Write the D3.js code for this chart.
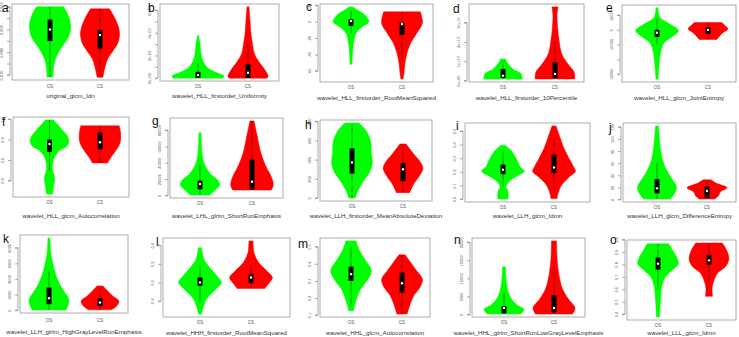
<!DOCTYPE html>
<html>
<head>
<meta charset="utf-8">
<script src="https://cdn.jsdelivr.net/npm/d3@7"></script>
<style>
  body { margin: 0; background: #fff; }
  svg { display: block; }
</style>
</head>
<body>
<svg id="chart" width="739" height="337"></svg>
<script>
// groups on the x axis of every panel
var categories = ["OS", "CS"];
var groupColors = ["#00ff00", "#ff0000"];

var panelLetters = ["a","b","c","d","e","f","g","h","i","j","k","l","m","n","o"];

var featureNames = [
  "original_glcm_Idn",
  "wavelet_HLL_firstorder_Uniformity",
  "wavelet_HLL_firstorder_RootMeanSquared",
  "wavelet_HLL_firstorder_10Percentile",
  "wavelet_HLL_glcm_JointEntropy",
  "wavelet_HLL_glcm_Autocorrelation",
  "wavelet_LHL_glrlm_ShortRunEmphasis",
  "wavelet_LLH_firstorder_MeanAbsoluteDeviation",
  "wavelet_LLH_glcm_Idmn",
  "wavelet_LLH_glcm_DifferenceEntropy",
  "wavelet_LLH_glrlm_HighGrayLevelRunEmphasis",
  "wavelet_HHH_firstorder_RootMeanSquared",
  "wavelet_HHL_glcm_Autocorrelation",
  "wavelet_HHL_glrlm_ShortRunLowGrayLevelEmphasis",
  "wavelet_LLL_glcm_Idmn"
];

var yTicks = [
  [0.870, 0.875, 0.880, 0.885, 0.890, 0.895, 0.900],
  [0, 1e-3, 2e-3, 3e-3, 4e-3, 5e-3, 6e-3],
  [-60, -40, -20, 0, 20],
  [0, 1e13, 2e13, 3e13],
  [-30000, -20000, -10000, 0, 10000],
  [0.4, 0.6, 0.8, 1.0],
  [0, 20000, 40000, 60000, 80000],
  [0, 200, 400, 600, 800],
  [0.0, 0.1, 0.2, 0.3, 0.4, 0.5],
  [0, 20, 40, 60, 80, 100, 120],
  [0, 2000, 4000, 6000, 8000],
  [-0.2, 0.0, 0.2, 0.4],
  [0.1, 0.2, 0.3, 0.4, 0.5],
  [0, 5000, 10000, 15000, 20000],
  [0.4, 0.5, 0.6, 0.7, 0.8, 0.9, 1.0]
];

var yTickLabels = [
  ["0.870", "", "0.880", "", "0.890", "", "0.900"],
  ["0e+00", "", "2e-03", "", "4e-03", "", "6e-03"],
  ["-60", "-40", "-20", "0", "20"],
  ["0e+00", "1e+13", "2e+13", "3e+13"],
  ["-30000", "", "-10000", "0", "10000"],
  ["0.4", "0.6", "0.8", "1.0"],
  ["0", "20000", "40000", "60000", "80000"],
  ["0", "200", "400", "600", "800"],
  ["0.0", "0.1", "0.2", "0.3", "0.4", "0.5"],
  ["0", "20", "40", "60", "80", "100", "120"],
  ["0", "2000", "4000", "6000", "8000"],
  ["-0.2", "0.0", "0.2", "0.4"],
  ["0.1", "0.2", "0.3", "0.4", "0.5"],
  ["0", "5000", "10000", "15000", "20000"],
  ["0.4", "0.5", "0.6", "0.7", "0.8", "0.9", "1.0"]
];

// violin outlines: [value, half width in group units], top to bottom
var osProfiles = [
  [[0.900,0.27],[0.897,0.35],[0.8936,0.40],[0.890,0.41],[0.8867,0.37],[0.8833,0.27],[0.8799,0.17],[0.8764,0.10],[0.873,0.07],[0.8691,0.06]],
  [[3.76e-3,0.01],[3.04e-3,0.04],[2.15e-3,0.06],[1.52e-3,0.10],[0.92e-3,0.19],[0.47e-3,0.38],[0.18e-3,0.52],[0,0.50]],
  [[18,0.04],[14,0.13],[10,0.24],[0,0.35],[-6,0.23],[-14,0.10],[-26,0.05],[-38,0.03],[-52,0.02]],
  [[1.12e13,0.05],[0.86e13,0.10],[0.6e13,0.19],[0.35e13,0.35],[0.08e13,0.37]],
  [[14870,0.02],[8290,0.06],[3950,0.25],[-460,0.42],[-4870,0.29],[-9210,0.13],[-15800,0.07],[-24600,0.04],[-33360,0.02]],
  [[0.992,0.08],[0.908,0.23],[0.807,0.38],[0.74,0.35],[0.69,0.19],[0.605,0.08],[0.504,0.06],[0.436,0.10],[0.335,0.08],[0.268,0.06]],
  [[76800,0.02],[52000,0.04],[39600,0.08],[27200,0.19],[18900,0.34],[12750,0.38],[6560,0.29],[500,0.19]],
  [[782,0.14],[691,0.29],[582,0.37],[473,0.38],[364,0.40],[273,0.35],[182,0.23],[92,0.13],[0,0.06]],
  [[0.396,0.04],[0.351,0.17],[0.29,0.27],[0.24,0.33],[0.203,0.42],[0.173,0.29],[0.129,0.12],[0.091,0.06],[0.054,0.10],[0.0,0.10]],
  [[121.7,0.03],[91,0.06],[63,0.12],[46,0.21],[32.5,0.31],[21,0.39],[13,0.37],[7.4,0.33],[0.7,0.27]],
  [[9260,0.02],[7130,0.04],[5860,0.08],[4590,0.13],[3310,0.21],[2250,0.31],[1400,0.39],[550,0.37],[0,0.33]],
  [[0.375,0.03],[0.25,0.08],[0.161,0.19],[0.072,0.33],[0,0.42],[-0.071,0.31],[-0.161,0.15],[-0.25,0.07],[-0.339,0.03]],
  [[0.533,0.10],[0.475,0.17],[0.417,0.29],[0.358,0.40],[0.31,0.33],[0.252,0.19],[0.203,0.12],[0.154,0.07],[0.125,0.05]],
  [[13230,0.03],[9910,0.04],[7060,0.07],[4660,0.13],[2770,0.25],[1340,0.40],[100,0.33]],
  [[0.967,0.21],[0.911,0.29],[0.856,0.37],[0.806,0.40],[0.758,0.29],[0.702,0.15],[0.633,0.08],[0.521,0.05],[0.376,0.03]]
];

var csProfiles = [
  [[0.8991,0.19],[0.8953,0.29],[0.891,0.37],[0.8876,0.39],[0.8837,0.35],[0.8803,0.25],[0.8769,0.15],[0.8734,0.10],[0.8704,0.07],[0.869,0.06]],
  [[6.29e-3,0.02],[5.1e-3,0.04],[3.91e-3,0.06],[3.02e-3,0.09],[2.12e-3,0.13],[1.37e-3,0.23],[0.78e-3,0.33],[0.18e-3,0.40],[0,0.38]],
  [[12,0.36],[-2,0.40],[-14,0.29],[-26,0.17],[-38,0.10],[-50,0.06],[-62,0.04],[-70,0.02]],
  [[3.81e13,0.06],[3.44e13,0.04],[2.75e13,0.05],[2.06e13,0.08],[1.38e13,0.13],[0.86e13,0.25],[0.43e13,0.37],[0.09e13,0.38]],
  [[5000,0.27],[3000,0.33],[660,0.39],[-2630,0.27],[-6580,0.17]],
  [[0.935,0.38],[0.858,0.41],[0.774,0.40],[0.69,0.31],[0.622,0.21],[0.572,0.15]],
  [[91100,0.04],[72600,0.10],[52000,0.17],[35400,0.27],[23000,0.37],[12750,0.41],[6560,0.37]],
  [[564,0.06],[473,0.19],[382,0.33],[310,0.39],[237,0.33],[146,0.21],[55,0.13]],
  [[0.537,0.04],[0.45,0.12],[0.376,0.19],[0.302,0.29],[0.24,0.38],[0.203,0.42],[0.166,0.31],[0.104,0.15],[0.042,0.08],[0.004,0.06]],
  [[32.5,0.08],[26.8,0.19],[19.6,0.40],[12.9,0.27],[6.2,0.23],[0.7,0.15]],
  [[3100,0.06],[2460,0.15],[1820,0.25],[1180,0.37],[550,0.33],[40,0.23]],
  [[0.447,0.04],[0.322,0.06],[0.214,0.15],[0.125,0.31],[0.054,0.42],[-0.007,0.35],[-0.064,0.27]],
  [[0.452,0.06],[0.407,0.17],[0.358,0.29],[0.31,0.40],[0.261,0.35],[0.213,0.23],[0.154,0.15],[0.106,0.10]],
  [[20370,0.05],[15640,0.06],[10860,0.10],[7060,0.17],[4200,0.29],[1800,0.42],[100,0.37]],
  [[0.973,0.26],[0.911,0.35],[0.842,0.39],[0.786,0.33],[0.731,0.17],[0.674,0.10],[0.605,0.06],[0.543,0.07]]
];

// [lower whisker, q1, median, q3, upper whisker]
var osBoxes = [
  [0.869, 0.8849, 0.890, 0.8944, 0.900],
  [0, 0.03e-3, 0.27e-3, 0.56e-3, 1.37e-3],
  [-15, -5.2, 0.8, 2.9, 14],
  [0.08e13, 0.14e13, 0.26e13, 0.6e13, 1.0e13],
  [-10000, -4870, -1970, 0, 8000],
  [0.5, 0.679, 0.757, 0.8, 0.99],
  [500, 7400, 14000, 18100, 38000],
  [0, 255, 371, 517, 760],
  [0.09, 0.183, 0.215, 0.253, 0.36],
  [0.7, 10, 18.4, 33.5, 60],
  [0, 760, 1530, 2890, 5000],
  [-0.22, -0.035, 0, 0.054, 0.2],
  [0.15, 0.3, 0.339, 0.383, 0.5],
  [100, 290, 1800, 2290, 6000],
  [0.6, 0.758, 0.806, 0.856, 0.967]
];

var csBoxes = [
  [0.869, 0.8816, 0.8876, 0.8897, 0.8991],
  [0, 0.02e-3, 0.47e-3, 1.23e-3, 3.0e-3],
  [-40, -16, -2.8, -1.2, 12],
  [0.09e13, 0.14e13, 0.35e13, 0.94e13, 2.0e13],
  [-6580, -2630, 0, 1710, 5000],
  [0.572, 0.706, 0.774, 0.868, 0.935],
  [6560, 7400, 16800, 43700, 91100],
  [55, 175, 299, 364, 560],
  [0.05, 0.19, 0.232, 0.327, 0.45],
  [0.7, 2.8, 14, 21.3, 32],
  [40, 510, 980, 1530, 2900],
  [-0.064, -0.006, 0.054, 0.09, 0.2],
  [0.11, 0.232, 0.286, 0.348, 0.45],
  [100, 570, 1800, 5340, 13000],
  [0.66, 0.8, 0.833, 0.878, 0.973]
];

// panel frames on the page
var layout = [
  {x0:12,  x1:129, y0:4,   y1:80,  c1:50,  c2:100, catY:88,  titleY:98,  lx:2,   ly:12},
  {x0:160, x1:279, y0:4,   y1:81,  c1:198, c2:248, catY:88,  titleY:98,  lx:148, ly:12},
  {x0:320, x1:433, y0:4,   y1:82,  c1:351, c2:402, catY:89,  titleY:100, lx:306, ly:11},
  {x0:469, x1:584, y0:4,   y1:82,  c1:503, c2:555, catY:89,  titleY:100, lx:453, ly:13},
  {x0:622, x1:736, y0:5,   y1:82,  c1:657, c2:708, catY:89,  titleY:100, lx:606, ly:12},
  {x0:13,  x1:129, y0:117, y1:197, c1:49.5,c2:100, catY:204, titleY:218, lx:2,   ly:126},
  {x0:170, x1:283, y0:118, y1:198, c1:200, c2:252, catY:205, titleY:218, lx:152, ly:125},
  {x0:320, x1:432, y0:120, y1:201, c1:352, c2:403, catY:208, titleY:218, lx:305, ly:129},
  {x0:465, x1:590, y0:123, y1:202, c1:503, c2:554, catY:209, titleY:218, lx:456, ly:130},
  {x0:623, x1:736, y0:123, y1:202, c1:657, c2:707, catY:209, titleY:218, lx:609, ly:132},
  {x0:20,  x1:128, y0:235, y1:313, c1:49,  c2:100, catY:322, titleY:334, lx:3,   ly:243},
  {x0:163, x1:290, y0:238, y1:317, c1:200, c2:251, catY:324, titleY:335, lx:156, ly:246},
  {x0:320, x1:430, y0:238, y1:317, c1:351, c2:402, catY:324, titleY:335, lx:298, ly:248},
  {x0:472, x1:585, y0:238, y1:317, c1:504, c2:554, catY:324, titleY:335, lx:454, ly:244},
  {x0:627, x1:736, y0:240, y1:320, c1:658, c2:709, catY:327, titleY:335, lx:610, ly:244}
];

var svg = d3.select("#chart");
var font = "Liberation Sans, Arial, sans-serif";

layout.forEach(function(L, i) {
  var profiles = [osProfiles[i], csProfiles[i]];
  var boxes = [osBoxes[i], csBoxes[i]];

  // y domain: data range plus 4% each side, like R
  var allVals = [];
  profiles.forEach(function(p) { p.forEach(function(d) { allVals.push(d[0]); }); });
  var ext = d3.extent(allVals);
  var pad = (ext[1] - ext[0]) * 0.04;
  var y = d3.scaleLinear().domain([ext[0] - pad, ext[1] + pad]).range([L.y1, L.y0]);
  var x = d3.scaleLinear().domain([1, 2]).range([L.c1, L.c2]);

  var g = svg.append("g").attr("class", "panel");

  // y axis
  var eps = (ext[1] - ext[0]) * 0.02;
  var ticks = yTicks[i].filter(function(t) { return t >= y.domain()[0] - eps && t <= y.domain()[1] + eps; });
  var labels = yTickLabels[i];
  var axis = d3.axisLeft(y)
    .tickValues(ticks)
    .tickSize(3)
    .tickPadding(2)
    .tickFormat(function(t) { return labels[yTicks[i].indexOf(t)]; });
  var ag = g.append("g")
    .attr("transform", "translate(" + (L.x0 - 2) + ",0)")
    .call(axis);
  ag.select(".domain").attr("stroke", "#888").attr("stroke-width", 0.7)
    .attr("d", "M-3," + y(ticks[0]) + "H0V" + y(ticks[ticks.length - 1]) + "H-3");
  ag.selectAll(".tick line").attr("stroke", "#888").attr("stroke-width", 0.7);
  ag.selectAll(".tick text")
    .attr("font-family", font)
    .attr("font-size", 4)
    .attr("fill", "#555")
    .attr("x", 0).attr("dy", 0)
    .attr("text-anchor", "middle")
    .attr("transform", "translate(-7,0) rotate(-90)");

  // violins
  profiles.forEach(function(p, k) {
    var cat = k + 1;
    var area = d3.area()
      .y(function(d) { return y(d[0]); })
      .x0(function(d) { return x(cat - d[1]); })
      .x1(function(d) { return x(cat + d[1]); })
      .curve(d3.curveCatmullRom.alpha(0.5));
    g.append("path")
      .datum(p)
      .attr("d", area)
      .attr("fill", groupColors[k])
      .attr("stroke", groupColors[k])
      .attr("stroke-width", 0.5);
  });

  // whisker line, box, median
  boxes.forEach(function(b, k) {
    var cx = x(k + 1);
    g.append("line")
      .attr("x1", cx).attr("x2", cx)
      .attr("y1", y(b[0])).attr("y2", y(b[4]))
      .attr("stroke", "#000").attr("stroke-opacity", 0.55).attr("stroke-width", 0.7);
    g.append("rect")
      .attr("x", cx - 2.5).attr("width", 5)
      .attr("y", y(b[3])).attr("height", y(b[1]) - y(b[3]))
      .attr("fill", "#000");
    g.append("circle")
      .attr("cx", cx).attr("cy", y(b[2])).attr("r", 1.2)
      .attr("fill", "#fff");
  });

  // frame
  g.append("rect")
    .attr("x", L.x0).attr("y", L.y0)
    .attr("width", L.x1 - L.x0).attr("height", L.y1 - L.y0)
    .attr("fill", "none").attr("stroke", "#999").attr("stroke-width", 0.8);

  // category labels
  categories.forEach(function(c, k) {
    g.append("text")
      .attr("x", x(k + 1)).attr("y", L.catY)
      .attr("text-anchor", "middle")
      .attr("font-family", font).attr("font-size", 4.5).attr("fill", "#555")
      .text(c);
  });

  // feature name
  g.append("text")
    .attr("x", (L.x0 + L.x1) / 2).attr("y", L.titleY)
    .attr("text-anchor", "middle")
    .attr("font-family", font).attr("font-size", 6.2).attr("fill", "#333")
    .text(featureNames[i]);

  // panel letter
  g.append("text")
    .attr("x", L.lx).attr("y", L.ly)
    .attr("font-family", font).attr("font-size", 12).attr("fill", "#111")
    .text(panelLetters[i]);
});
</script>
</body>
</html>
